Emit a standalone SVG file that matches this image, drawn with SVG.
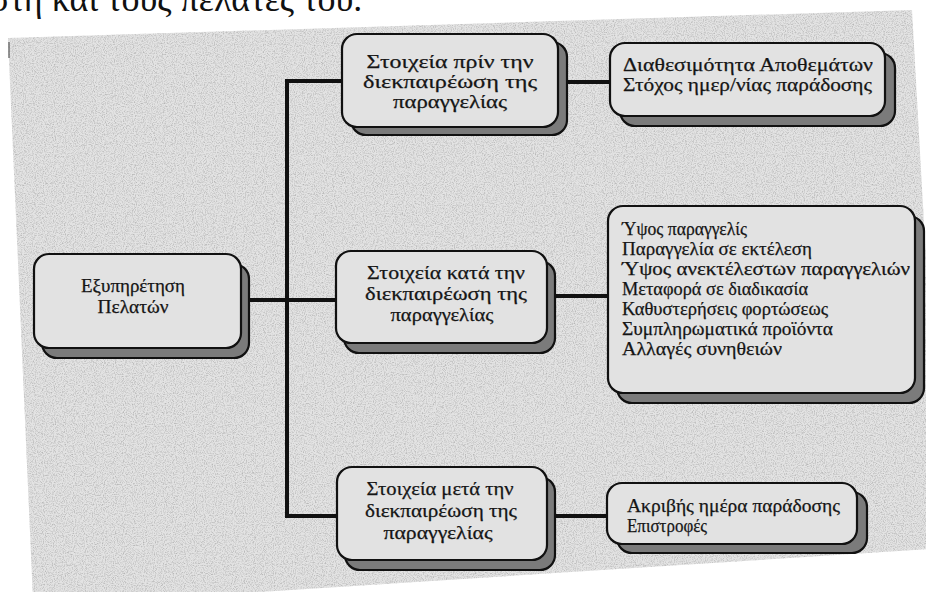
<svg xmlns="http://www.w3.org/2000/svg" width="926" height="592" viewBox="0 0 926 592">
  <defs>
    <style>
      .t { font-family: "Liberation Serif", "Times New Roman", serif; font-size: 19px; fill: #151515; stroke: #151515; stroke-width: 0.25; }
      .c { text-anchor: middle; }
      .head { font-family: "Liberation Serif", "Times New Roman", serif; font-size: 36px; fill: #111; }
      .box { fill: #e2e2e2; stroke: #111; stroke-width: 2.2; }
      .shadow { fill: #7b7b7b; stroke: #111; stroke-width: 2.2; }
      .wire { stroke: #111; stroke-width: 4; fill: none; stroke-linecap: square; }
    </style>
    <filter id="grain" x="0" y="0" width="100%" height="100%">
      <feTurbulence type="fractalNoise" baseFrequency="0.9" numOctaves="2" seed="4" result="n"/>
      <feColorMatrix in="n" type="matrix" values="0 0 0 0 0.3  0 0 0 0 0.3  0 0 0 0 0.3  0 0 0 -2.2 1.25"/>
    </filter>
    <clipPath id="sheet">
      <polygon points="8,38 912,10 930,330 930,549 260,592 33,600"/>
    </clipPath>
  </defs>

  <rect width="926" height="592" fill="#ffffff"/>
  <text class="head" x="-10" y="11">στη και τους πελάτες του.</text>

  <!-- scanned sheet -->
  <g id="sheet-bg">
    <polygon points="8,38 912,10 930,330 930,549 260,592 33,600" fill="#e3e3e3"/>
    <rect width="926" height="592" filter="url(#grain)" clip-path="url(#sheet)" opacity="0.6"/>
    <line x1="9" y1="42" x2="9" y2="58" stroke="#555" stroke-width="1.2"/>
  </g>

  <!-- connectors -->
  <g id="connectors">
    <path class="wire" d="M287 81 V516"/>
    <path class="wire" d="M287 81 H342"/>
    <path class="wire" d="M249 300 H336"/>
    <path class="wire" d="M287 516 H337"/>
    <path class="wire" d="M567 82 H610"/>
    <path class="wire" d="M555 296 H608"/>
    <path class="wire" d="M555 516 H607"/>
  </g>

  <g id="root">
    <rect class="shadow" x="42" y="264" width="207" height="94" rx="15"/>
    <rect class="box" x="34" y="254" width="207" height="94" rx="15"/>
    <text class="t c" x="133" y="292" textLength="104" lengthAdjust="spacingAndGlyphs">Εξυπηρέτηση</text>
    <text class="t c" x="133" y="313" textLength="71" lengthAdjust="spacingAndGlyphs">Πελατών</text>
  </g>

  <g id="before">
    <rect class="shadow" x="351" y="42" width="216" height="93" rx="15"/>
    <rect class="box" x="342" y="34" width="216" height="93" rx="15"/>
    <text class="t c" x="450" y="68" textLength="167" lengthAdjust="spacingAndGlyphs">Στοιχεία πρίν την</text>
    <text class="t c" x="450" y="88" textLength="174" lengthAdjust="spacingAndGlyphs">διεκπαιρέωση της</text>
    <text class="t c" x="450" y="108" textLength="114" lengthAdjust="spacingAndGlyphs">παραγγελίας</text>
  </g>

  <g id="before-items">
    <rect class="shadow" x="620" y="53" width="275" height="73" rx="15"/>
    <rect class="box" x="610" y="43" width="275" height="73" rx="15"/>
    <text class="t" x="623" y="71" textLength="250" lengthAdjust="spacingAndGlyphs">Διαθεσιμότητα  Αποθεμάτων</text>
    <text class="t" x="623" y="91" textLength="249" lengthAdjust="spacingAndGlyphs">Στόχος ημερ/νίας παράδοσης</text>
  </g>

  <g id="during">
    <rect class="shadow" x="344" y="261" width="211" height="92" rx="15"/>
    <rect class="box" x="336" y="251" width="211" height="92" rx="15"/>
    <text class="t c" x="446" y="279" textLength="158" lengthAdjust="spacingAndGlyphs">Στοιχεία κατά την</text>
    <text class="t c" x="446" y="300" textLength="162" lengthAdjust="spacingAndGlyphs">διεκπαιρέωση της</text>
    <text class="t c" x="442" y="321" textLength="103" lengthAdjust="spacingAndGlyphs">παραγγελίας</text>
  </g>

  <g id="during-items">
    <rect class="shadow" x="617" y="216" width="307" height="187" rx="15"/>
    <rect class="box" x="608" y="206" width="307" height="187" rx="15"/>
    <text class="t" x="622" y="235" textLength="125" lengthAdjust="spacingAndGlyphs">Ύψος παραγγελίς</text>
    <text class="t" x="622" y="255" textLength="190" lengthAdjust="spacingAndGlyphs">Παραγγελία σε εκτέλεση</text>
    <text class="t" x="622" y="275" textLength="288" lengthAdjust="spacingAndGlyphs">Ύψος ανεκτέλεστων παραγγελιών</text>
    <text class="t" x="622" y="295" textLength="186" lengthAdjust="spacingAndGlyphs">Μεταφορά σε διαδικασία</text>
    <text class="t" x="622" y="315" textLength="206" lengthAdjust="spacingAndGlyphs">Καθυστερήσεις φορτώσεως</text>
    <text class="t" x="622" y="335" textLength="211" lengthAdjust="spacingAndGlyphs">Συμπληρωματικά προϊόντα</text>
    <text class="t" x="622" y="355" textLength="160" lengthAdjust="spacingAndGlyphs">Αλλαγές συνηθειών</text>
  </g>

  <g id="after">
    <rect class="shadow" x="345" y="477" width="210" height="93" rx="15"/>
    <rect class="box" x="337" y="467" width="210" height="93" rx="15"/>
    <text class="t c" x="440" y="495" textLength="147" lengthAdjust="spacingAndGlyphs">Στοιχεία μετά την</text>
    <text class="t c" x="441" y="517" textLength="152" lengthAdjust="spacingAndGlyphs">διεκπαιρέωση της</text>
    <text class="t c" x="438" y="539" textLength="109" lengthAdjust="spacingAndGlyphs">παραγγελίας</text>
  </g>

  <g id="after-items">
    <rect class="shadow" x="617" y="492" width="250" height="61" rx="15"/>
    <rect class="box" x="607" y="483" width="250" height="61" rx="15"/>
    <text class="t" x="627" y="512" textLength="213" lengthAdjust="spacingAndGlyphs">Ακριβής ημέρα παράδοσης</text>
    <text class="t" x="627" y="532" textLength="80" lengthAdjust="spacingAndGlyphs">Επιστροφές</text>
  </g>
</svg>
